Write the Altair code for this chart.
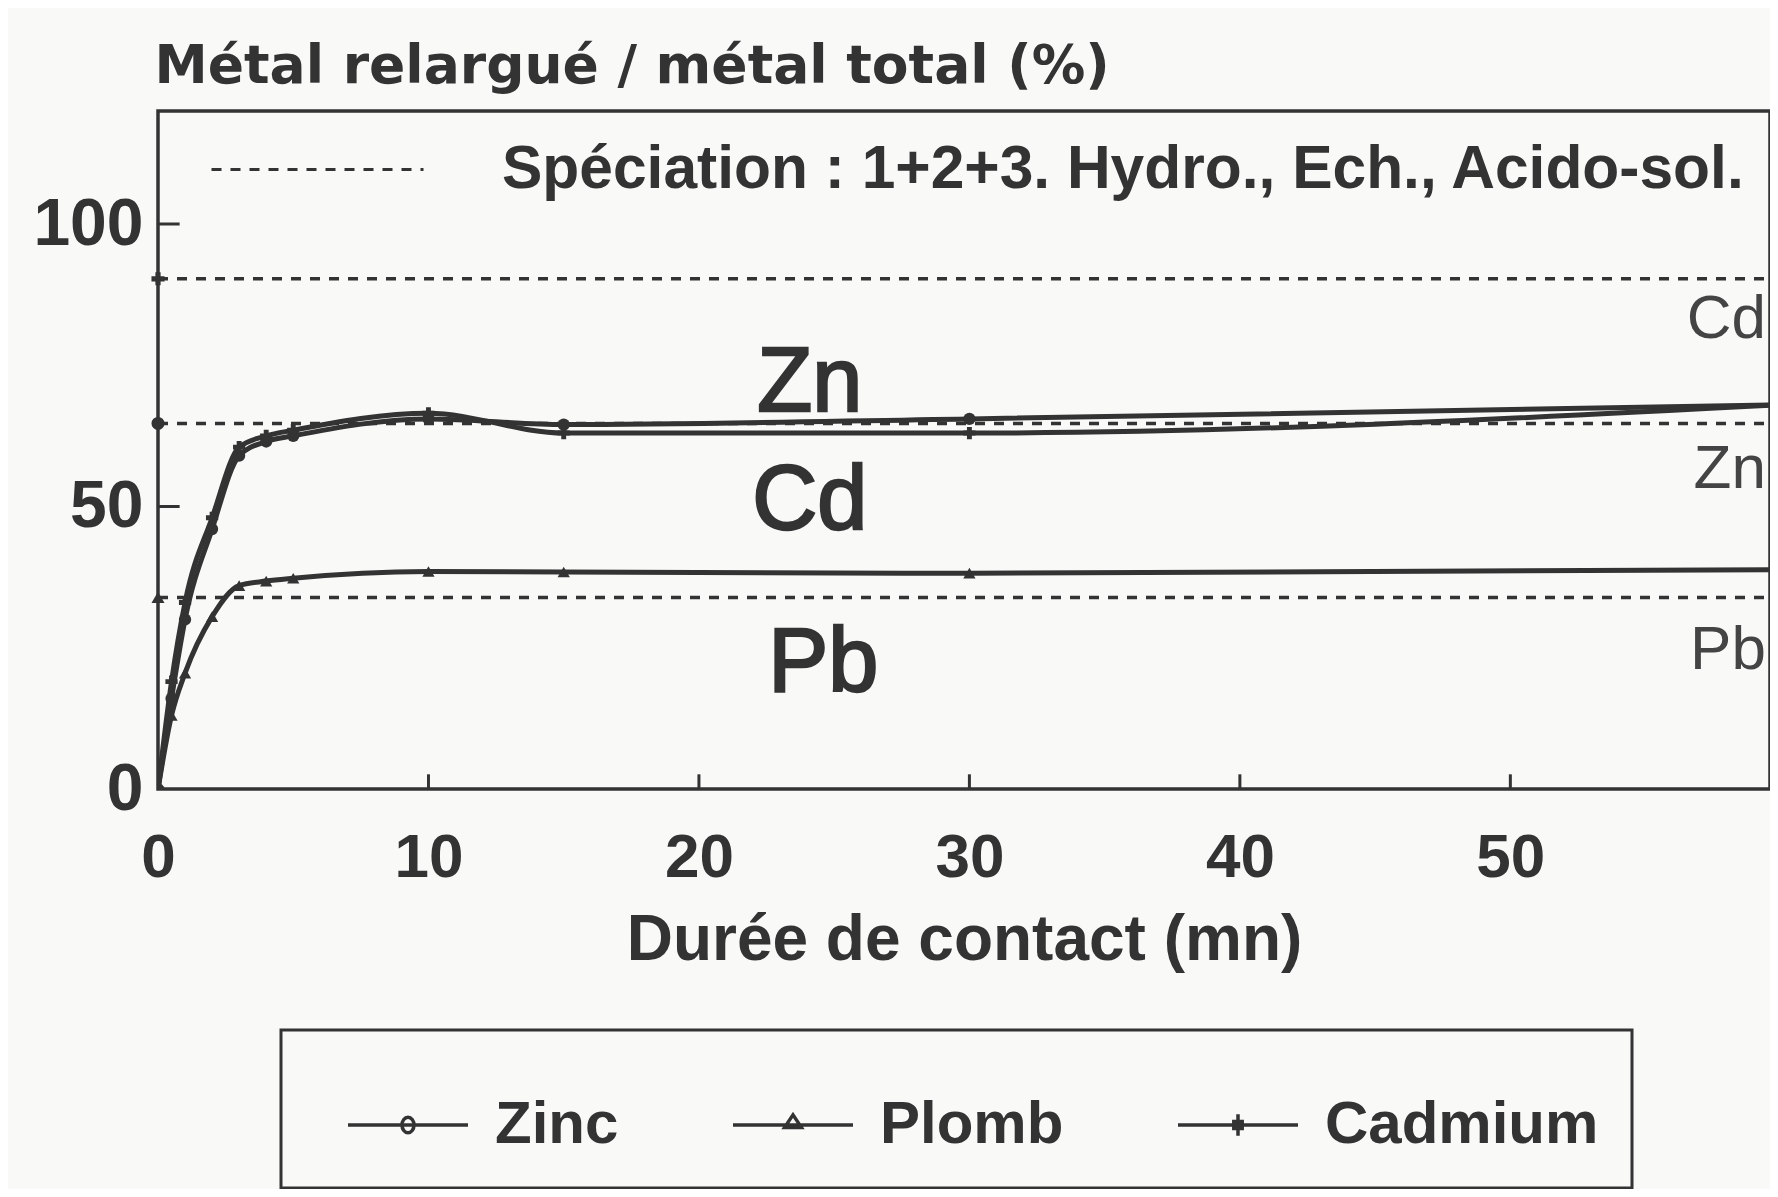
import altair as alt
import pandas as pd

# ---------------- data ----------------
times = [0, 0.5, 1, 2, 3, 4, 5, 10, 15, 30, 60]
zinc = [0, 16, 30, 46, 59, 61.5, 62.5, 65.5, 64.5, 65.5, 68]
plomb = [0, 13, 20.5, 30.5, 36, 36.8, 37.3, 38.5, 38.4, 38.2, 38.8]
cadmium = [0, 19, 33, 48, 60.5, 62.5, 63.5, 66.5, 63, 63, 68]

metals = ["Zinc", "Plomb", "Cadmium"]
speciation_levels = [64.7, 33.9, 90.3]
speciation_label = "Spéciation : 1+2+3. Hydro., Ech., Acido-sol."

x_ticks = [0, 10, 20, 30, 40, 50]
y_ticks = [0, 50, 100]
x_inner_ticks = [10, 20, 30, 40, 50]
y_inner_ticks = [50, 100]

inner_labels = ["Zn", "Cd", "Pb"]
inner_x = [24.1, 24.1, 24.6]
inner_y = [66.9, 46.0, 17.3]

side_labels = ["Cd", "Zn", "Pb"]
side_x = [59.45, 59.45, 59.45]
side_y = [79.8, 53.3, 21.2]

# ---------------- styles ----------------
INK = "#333333"
BG = "#f9f9f8"
marker_shapes = ["circle", "triangle-up", "cross"]
legend_paths = [
    "M-1,0H1M-0.1,0A0.1,0.13 0 1,0 0.1,0A0.1,0.13 0 1,0 -0.1,0Z",
    "M-1,0H1M-0.14,0.04L0,-0.17L0.14,0.04Z",
    "M-1,0H1M0,-0.18V0.18M-0.07,-0.06H0.07V0.06H-0.07Z",
]

# ---------------- tables ----------------
series_values = {"Zinc": zinc, "Plomb": plomb, "Cadmium": cadmium}
series_df = pd.DataFrame(
    [{"metal": m, "legend_metal": m, "t": t, "v": v}
     for m in metals for t, v in zip(times, series_values[m])]
)
spec_df = pd.DataFrame(
    [{"metal": m, "kind": speciation_label, "t": t, "v": lvl}
     for m, lvl in zip(metals, speciation_levels) for t in (times[0], times[-1])]
)
spec_pts = pd.DataFrame(
    [{"metal": m, "t": times[0], "v": lvl} for m, lvl in zip(metals, speciation_levels)]
)
xtick_df = pd.DataFrame({"t": x_inner_ticks, "t2": x_inner_ticks,
                         "v": [0] * len(x_inner_ticks), "v2": [2.6] * len(x_inner_ticks)})
ytick_df = pd.DataFrame({"t": [0] * len(y_inner_ticks), "t2": [0.8] * len(y_inner_ticks),
                         "v": y_inner_ticks, "v2": y_inner_ticks})
inner_df = pd.DataFrame({"label": inner_labels, "t": inner_x, "v": inner_y})
side_df = pd.DataFrame({"label": side_labels, "t": side_x, "v": side_y})

# ---------------- scales / axes ----------------
xscale = alt.Scale(domain=[0, 59.6], nice=False, zero=False)
yscale = alt.Scale(domain=[0, 120], nice=False, zero=False)

xaxis = alt.Axis(
    values=x_ticks, tickSize=0, domain=False, grid=False, labelOverlap=False,
    labelFont="Liberation Sans", labelFontWeight="bold", labelFontSize=62,
    labelColor=INK, labelPadding=38, labelFlush=False,
    title="Durée de contact (mn)", titleFont="Liberation Sans", titleFontWeight="bold",
    titleFontSize=64, titleColor=INK, titlePadding=20,
)
yaxis = alt.Axis(
    values=y_ticks, tickSize=0, domain=False, grid=False, labelOverlap=False,
    labelFont="Liberation Sans", labelFontWeight="bold", labelFontSize=66,
    labelColor=INK, labelPadding=15, labelFlush=False,
    title="Métal relargué / métal total (%)", titleAngle=0, titleAlign="left",
    titleBaseline="alphabetic", titleX=-4, titleY=-29,
    titleFont="DejaVu Sans", titleFontWeight="bold", titleFontSize=53.5, titleColor=INK,
)
X = alt.X("t:Q", scale=xscale, axis=xaxis)
Y = alt.Y("v:Q", scale=yscale, axis=yaxis)

shape_scale = alt.Scale(domain=metals, range=marker_shapes)

# ---------------- layers ----------------
spec_lines = alt.Chart(spec_df).mark_line(color=INK, strokeWidth=3.5, clip=True).encode(
    x=X, y=Y, detail="metal:N",
    strokeDash=alt.StrokeDash(
        "kind:N", scale=alt.Scale(range=[[10, 9]]),
        legend=alt.Legend(
            orient="none", legendX=52, legendY=-49, title=None, padding=0,
            symbolType="stroke", symbolSize=44944, symbolStrokeWidth=3,
            symbolStrokeColor=INK, labelOffset=77, labelLimit=3000,
            labelFont="Liberation Sans", labelFontWeight="bold", labelFontSize=60.5,
            labelColor=INK,
        ),
    ),
)

spec_points = alt.Chart(spec_pts).mark_point(filled=True, size=170, color=INK, opacity=1).encode(
    x=X, y=Y, shape=alt.Shape("metal:N", scale=shape_scale, legend=None)
)

series_lines = alt.Chart(series_df).mark_line(
    color=INK, strokeWidth=5, interpolate="monotone", clip=True
).encode(x=X, y=Y, detail="metal:N")

series_points = alt.Chart(series_df).mark_point(
    filled=True, size=150, color=INK, opacity=1, clip=True
).encode(x=X, y=Y, shape=alt.Shape("metal:N", scale=shape_scale, legend=None))

legend_layer = alt.Chart(series_df).mark_point(filled=False, opacity=0, color=INK).encode(
    x=X, y=Y,
    shape=alt.Shape(
        "legend_metal:N",
        scale=alt.Scale(domain=metals, range=legend_paths),
        legend=alt.Legend(
            orient="none", legendX=123, legendY=919, title=None,
            direction="horizontal", columns=3, padding=33, columnPadding=80,
            strokeColor=INK, fillColor=BG,
            symbolSize=14400, symbolOffset=32, symbolStrokeWidth=3.5,
            symbolStrokeColor=INK, symbolFillColor=INK, symbolOpacity=1,
            labelOffset=25, labelLimit=3000,
            labelFont="Liberation Sans", labelFontWeight="bold",
            labelFontSize=60, labelColor=INK,
        ),
    ),
)

xticks = alt.Chart(xtick_df).mark_rule(color=INK, strokeWidth=3).encode(
    x=X, x2="t2:Q", y=Y, y2="v2:Q"
)
yticks = alt.Chart(ytick_df).mark_rule(color=INK, strokeWidth=3).encode(
    x=X, x2="t2:Q", y=Y, y2="v2:Q"
)

inner_text = alt.Chart(inner_df).mark_text(
    font="Liberation Sans", fontSize=90, fontWeight="normal", color=INK,
    stroke=INK, strokeWidth=2.5, align="center", baseline="alphabetic",
).encode(x=X, y=Y, text="label:N")

side_text = alt.Chart(side_df).mark_text(
    font="Liberation Sans", fontSize=62, fontWeight="normal", color="#444444",
    align="right", baseline="alphabetic",
).encode(x=X, y=Y, text="label:N")

chart = (
    alt.layer(spec_lines, spec_points, series_lines, series_points, legend_layer,
              xticks, yticks, inner_text, side_text)
    .resolve_scale(shape="independent")
    .properties(
        width=1612, height=678,
        autosize=alt.AutoSizeParams(type="none"),
        padding={"left": 150, "top": 103, "right": 0, "bottom": 400},
        background=BG,
    )
    .configure_view(stroke=INK, strokeWidth=3.5)
    .configure_legend(strokeWidth=3)
)

chart.save("out.html", embed_options={"renderer": "svg", "actions": False})
